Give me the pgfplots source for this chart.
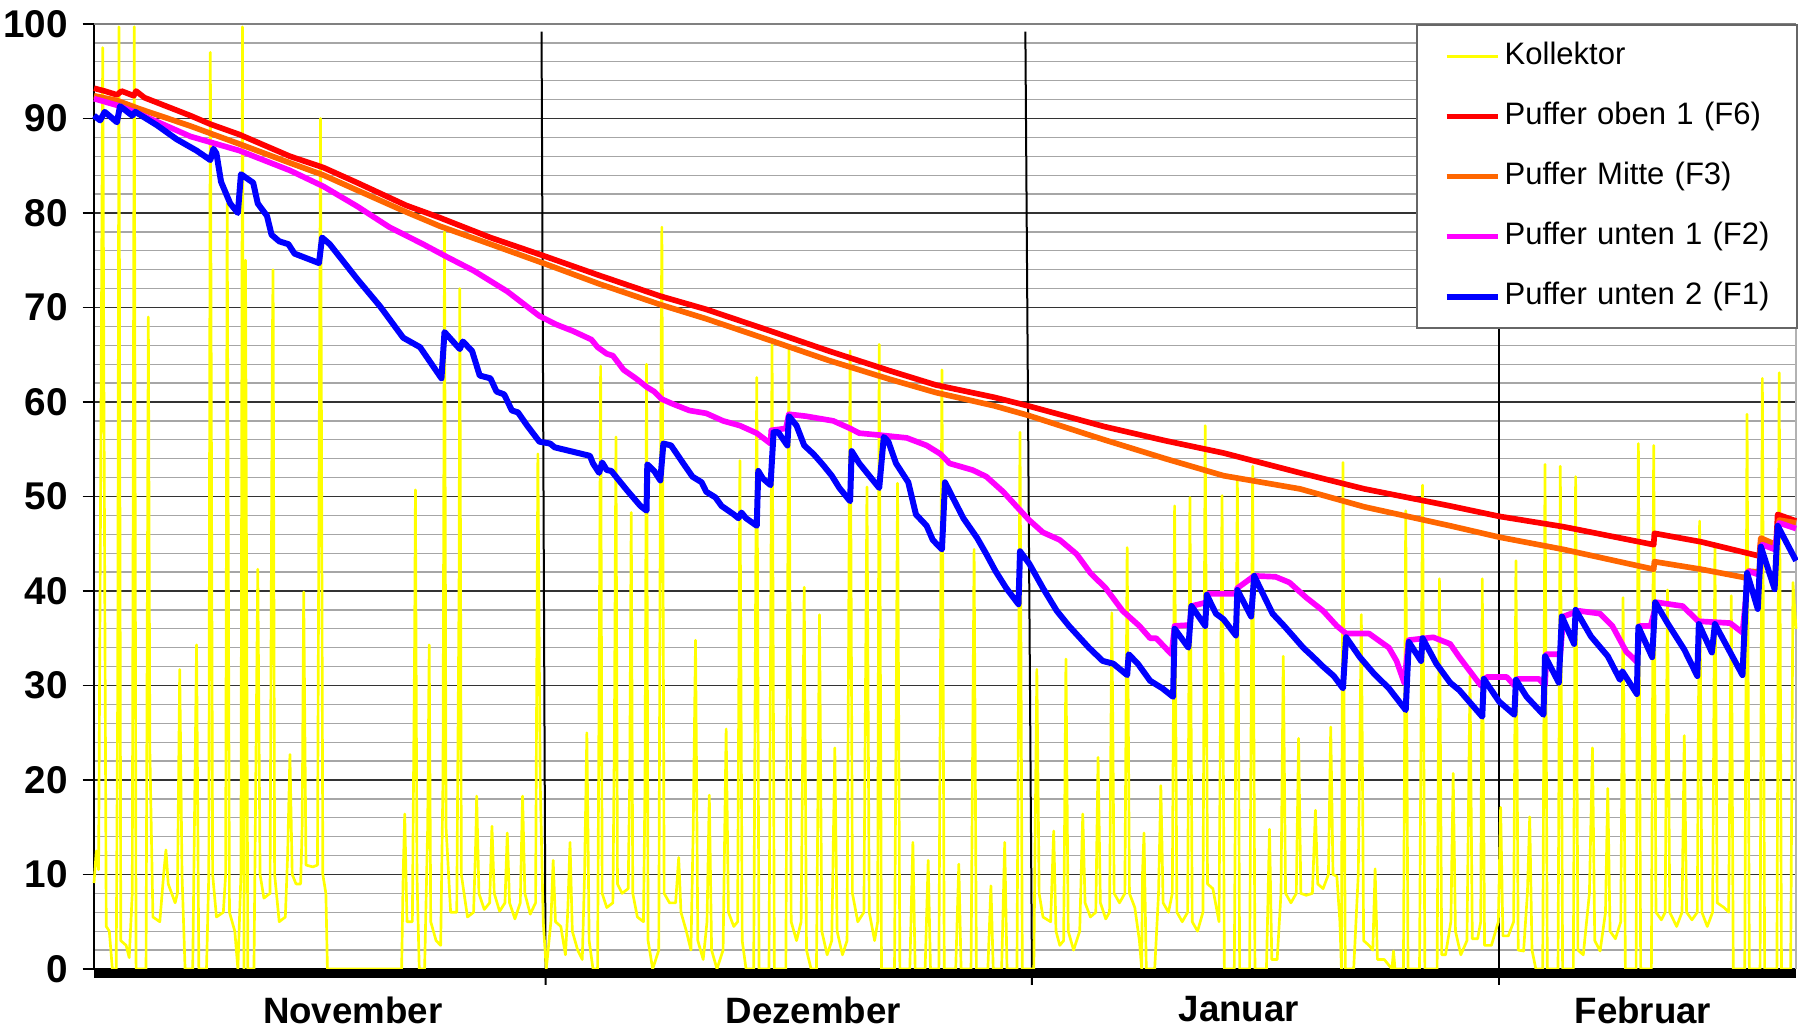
\documentclass[border=0pt]{standalone}
\usepackage{pgfplots}
\pgfplotsset{compat=1.18}
\usepackage{fontspec}
\setmainfont{Liberation Sans}
\definecolor{kol}{RGB}{255,255,0}
\definecolor{fsix}{RGB}{255,0,0}
\definecolor{fthree}{RGB}{255,102,0}
\definecolor{ftwo}{RGB}{255,0,255}
\definecolor{fone}{RGB}{0,0,255}
\begin{document}
\begin{tikzpicture}
\begin{axis}[
  scale only axis, width=510.6pt, height=283.5pt,
  xmin=0, xmax=111.2, ymin=0, ymax=100,
  clip=false,
  axis lines*=left,
  axis line style={black, line width=0.6pt},
  tick align=outside,
  major tick length=3.4pt, minor tick length=0pt,
  xtick={16.9,47.0,74.8,101.2},
  xticklabels={November,Dezember,Januar,Februar},
  x tick style={draw=none},
  ytick={0,10,...,100},
  minor ytick={2,4,6,8,12,14,16,18,22,24,26,28,32,34,36,38,42,44,46,48,52,54,56,58,62,64,66,68,72,74,76,78,82,84,86,88,92,94,96,98},
  y tick style={black, line width=0.5pt},
  ymajorgrids, yminorgrids,
  major grid style={black!80, line width=0.4pt},
  minor grid style={black!35, line width=0.4pt},
  /pgf/number format/assume math mode=true,
  xticklabel style={font=\fontsize{11}{13}\selectfont\bfseries, yshift=-1.3pt},
  yticklabel style={font=\fontsize{11.6}{13}\selectfont\bfseries, xshift=-1.0pt},
  legend style={at={(1.0012,1)}, anchor=north east, draw=black!60, line width=0.6pt, fill=white,
    inner xsep=0pt, inner ysep=5pt, font=\fontsize{9.3}{11}\selectfont, row sep=9pt,
    nodes={inner sep=0pt, text height=7pt, text depth=2pt, text width=87.7pt, align=left}},
  legend cell align=left,
  legend image code/.code={\path[draw=none] (0pt,0pt) -- (26.4pt,0pt); \draw[#1] (9.0pt,0pt) -- (24.3pt,0pt);},
  every axis plot/.append style={line join=round, no markers},
]
\coordinate (sw) at (rel axis cs:0,0);
\coordinate (ne) at (rel axis cs:1,1);
\draw[black!50, line width=0.8pt] (rel axis cs:0,1) -- (rel axis cs:1,1);
\draw[black!30, line width=0.5pt] (rel axis cs:1,0) -- (rel axis cs:1,1);
\draw[black, line width=0.6pt] (axis cs:29.24,99.2) -- (axis cs:29.5,0) -- ([yshift=-4.8pt]axis cs:29.5,0);
\draw[black, line width=0.6pt] (axis cs:60.85,99.2) -- (axis cs:61.28,0) -- ([yshift=-4.8pt]axis cs:61.28,0);
\draw[black, line width=0.6pt] (axis cs:91.8,99.2) -- (axis cs:91.8,0) -- ([yshift=-4.8pt]axis cs:91.8,0);

\addplot[kol, line width=0.8pt] coordinates {
(0,9.1) (0.15,12.5) (0.3,10.5) (0.45,56) (0.57,97.5) (0.65,60) (0.8,4.5) (1.0,4) (1.2,0) (1.45,0) (1.55,30) (1.63,99.7) (1.75,3) (2.1,2.5) (2.3,1.2) (2.5,8) (2.63,99.7) (2.75,0) (3.4,0) (3.55,69) (3.65,23) (3.85,5.5) (4.3,5) (4.55,10) (4.7,12.6) (4.85,9) (5.3,7) (5.45,8) (5.6,31.7) (5.75,10) (5.95,0) (6.45,0) (6.7,34.3) (6.85,0) (7.35,0) (7.5,10) (7.6,97) (7.75,10) (8.0,5.5) (8.45,6) (8.6,10) (8.7,81) (8.85,6) (9.2,4) (9.4,0) (9.6,10) (9.7,99.7) (9.8,0) (9.9,75) (10.05,0) (10.45,0) (10.7,42.3) (10.85,10) (11.1,7.5) (11.5,8) (11.65,66) (11.7,74) (11.8,10) (12.1,5) (12.5,5.5) (12.65,12) (12.8,22.7) (12.95,10) (13.2,9) (13.5,9) (13.6,15) (13.7,39.9) (13.85,11) (14.3,10.8) (14.6,11) (14.8,90) (14.95,10) (15.15,8) (15.25,0) (20.1,0) (20.2,10) (20.3,16.4) (20.45,5) (20.8,5) (20.95,35) (21.0,50.7) (21.1,10) (21.25,0) (21.6,0) (21.8,15) (21.9,34.3) (22.0,5) (22.35,3) (22.65,2.5) (22.8,20) (22.9,78) (23.0,15) (23.3,6) (23.7,6) (23.85,40) (23.9,72) (24.0,10) (24.4,5.5) (24.8,6) (24.95,14) (25.0,18.3) (25.15,8) (25.5,6.3) (25.85,7) (26.0,15.1) (26.15,8) (26.5,6.1) (26.85,7) (27.0,14.4) (27.15,7) (27.5,5.3) (27.85,7) (28.0,18.3) (28.15,8) (28.5,5.8) (28.85,7) (29.0,54.5) (29.15,20) (29.35,5) (29.55,0)
(29.85,5) (30.0,11.5) (30.15,5) (30.5,4.5) (30.8,1.5) (30.95,6) (31.1,13.4) (31.25,4) (31.6,2) (31.9,1) (32.05,10) (32.2,25) (32.35,3) (32.6,0) (32.9,0) (33.0,30) (33.1,63.8) (33.2,8) (33.5,6.5) (33.9,7) (34.0,25) (34.1,56.3) (34.2,9) (34.5,8) (34.9,8.5) (35.0,20) (35.1,48.3) (35.2,8) (35.5,5.5) (35.9,5) (36.0,20) (36.1,64) (36.2,3) (36.5,0) (36.9,2) (37.0,50) (37.1,78.5) (37.25,8) (37.6,7) (38.0,7) (38.2,11.8) (38.35,6) (38.7,4) (39.0,2) (39.15,15) (39.3,34.8) (39.45,3) (39.8,1) (40.05,5) (40.2,18.4) (40.35,2) (40.7,0) (41.1,2) (41.3,25.4) (41.45,6) (41.8,4.5) (42.05,5) (42.2,53.8) (42.35,3) (42.6,0) (43.1,0) (43.3,62.6) (43.45,0) (44.1,0) (44.3,66.1) (44.45,0) (45.2,0) (45.4,65.8) (45.55,5) (45.9,3) (46.2,5) (46.4,40.4) (46.55,2) (46.85,0) (47.2,0) (47.4,37.5) (47.55,4) (47.9,1.5) (48.2,3) (48.4,23.4) (48.55,4) (48.9,1.5) (49.2,3) (49.4,65.4) (49.55,8) (49.9,5) (50.3,6) (50.5,51) (50.65,6) (51.0,3) (51.2,5) (51.3,66.1) (51.45,0) (52.3,0) (52.5,51.4) (52.65,0) (53.3,0) (53.5,13.4) (53.65,0) (54.3,0) (54.5,11.5) (54.65,0) (55.2,0) (55.4,63.4) (55.55,0) (56.3,0) (56.5,11.1) (56.65,0) (57.3,0) (57.5,44.4) (57.65,0) (58.4,0) (58.6,8.8) (58.75,0)
(59.3,0) (59.5,13.4) (59.65,0) (60.3,0) (60.5,56.8) (60.65,0) (61.4,0) (61.6,31.7) (61.75,8) (62.0,5.5) (62.5,5) (62.7,14.6) (62.85,4) (63.1,2.5) (63.35,3) (63.5,32.8) (63.65,4) (64.0,2) (64.4,4) (64.6,16.4) (64.75,7) (65.1,5.5) (65.45,6) (65.6,22.4) (65.75,7) (66.1,5.3) (66.35,6) (66.5,37.7) (66.65,8) (67.0,7) (67.35,8) (67.5,44.6) (67.65,8) (68.0,6.5) (68.3,3) (68.45,0) (68.5,10) (68.6,14.4) (68.75,0) (69.3,0) (69.55,8) (69.7,19.4) (69.85,7) (70.2,6) (70.45,8) (70.6,49) (70.75,6) (71.1,5) (71.45,6) (71.6,49.9) (71.75,5) (72.1,4) (72.45,6) (72.6,57.5) (72.75,9) (73.1,8.5) (73.5,5) (73.7,50.1) (73.85,0) (74.5,0) (74.7,52.1) (74.85,0) (75.5,0) (75.7,53.2) (75.85,0) (76.6,0) (76.8,14.8) (76.95,1) (77.3,1) (77.55,8) (77.7,33.1) (77.85,8) (78.2,7) (78.55,8) (78.7,24.4) (78.85,8) (79.2,7.8) (79.6,8) (79.8,16.8) (79.95,9) (80.3,8.5) (80.65,10) (80.8,25.6) (80.95,10) (81.2,9.8) (81.4,5) (81.5,0) (81.6,53.6) (81.75,0) (82.3,0) (82.6,10) (82.8,37.5) (82.95,3) (83.3,2.5) (83.55,2) (83.7,10.6) (83.85,1) (84.3,1) (84.8,0) (84.9,1.9) (85.0,0) (85.55,0) (85.7,48.5) (85.85,0) (86.6,0) (86.8,51.2) (86.95,0) (87.75,0) (87.9,41.3) (88.05,1.5)
(88.3,1.5) (88.65,5) (88.8,20.7) (88.95,4) (89.3,1.5) (89.7,3) (89.9,31) (90.05,3.2) (90.4,3.2) (90.6,5) (90.7,41.3) (90.85,2.5) (91.3,2.5) (91.75,5) (91.9,17.1) (92.05,3.5) (92.4,3.5) (92.75,5) (92.9,43.2) (93.05,2) (93.4,1.9) (93.65,8) (93.8,16.1) (93.95,2) (94.2,0) (94.65,0) (94.8,53.4) (94.95,0) (95.65,0) (95.8,53.2) (95.95,0) (96.65,0) (96.8,52.1) (96.95,2) (97.3,1.5) (97.7,8) (97.9,23.4) (98.05,3) (98.4,1.9) (98.75,6) (98.9,19.1) (99.05,4) (99.4,3.2) (99.75,5) (99.9,39.3) (100.05,0) (100.75,0) (100.9,55.6) (101.05,0) (101.75,0) (101.9,55.4) (102.05,6) (102.4,5.2) (102.65,6) (102.8,40.1) (102.95,6) (103.4,4.5) (103.75,6) (103.9,24.7) (104.05,6) (104.4,5.2) (104.75,6) (104.9,47.4) (105.05,6) (105.4,4.5) (105.75,6) (105.9,44.8) (106.05,7) (106.5,6.5) (106.8,6) (106.97,39.5) (107.1,0) (107.85,0) (108.0,58.7) (108.15,0) (108.85,0) (109.0,62.5) (109.15,0) (109.95,0) (110.1,63.1) (110.25,0) (110.85,0) (111.0,40.9) (111.2,36)
};
\addlegendentry{Kollektor}

\addplot[fsix, line width=1.7pt] coordinates {
(0,93.2) (0.7,92.9) (1.5,92.5) (1.8,92.9) (2.6,92.4) (2.75,92.9) (3.3,92.2) (6.3,90.3) (7.6,89.4) (9.5,88.3) (12.8,86.0) (15.0,84.8) (17.2,83.2) (20.4,80.8) (22.6,79.5) (25.9,77.4) (29.5,75.4) (33,73.4) (37,71.2) (40,69.8) (44.4,67.4) (48,65.4) (52,63.3) (55,61.8) (58.8,60.5) (61,59.6) (66,57.4) (70,55.9) (73.8,54.6) (78.8,52.5) (83,50.8) (88.6,49.0) (91.8,47.9) (96,46.8) (101.9,44.9) (101.95,46.1) (105,45.2) (108.8,43.7) (108.9,45.4) (109.9,44.9) (110.0,48.1) (111.2,47.4)
};
\addlegendentry{Puffer oben 1 (F6)}

\addplot[fthree, line width=1.7pt] coordinates {
(0,92.4) (1.5,91.9) (3.0,91.0) (6.3,89.2) (9.5,87.3) (12.8,85.3) (15.0,84.0) (17.2,82.4) (20.4,80.1) (22.6,78.6) (25.9,76.7) (29.5,74.6) (33,72.5) (37,70.3) (40,68.8) (44.4,66.4) (48,64.4) (52,62.4) (55,61.0) (58.8,59.6) (61,58.6) (66,56.0) (70,54.0) (73.8,52.2) (78.8,50.8) (83,48.9) (88.6,46.9) (91.8,45.7) (96,44.4) (101.9,42.3) (101.95,43.1) (105,42.3) (107.9,41.4) (108.1,42.1) (108.8,42.0) (108.9,45.6) (109.9,44.9) (110.1,47.5) (111.2,47.2)
};
\addlegendentry{Puffer Mitte (F3)}

\addplot[ftwo, line width=1.7pt] coordinates {
(0,92.1) (1.5,91.4) (2.8,90.6) (6.3,88.1) (9.5,86.6) (12.8,84.5) (15.0,82.8) (17.2,80.7) (19.3,78.5) (21.5,76.7) (23.0,75.4) (24.8,73.9) (27.0,71.7) (29.1,69.1) (30.2,68.2) (31.3,67.5) (32.5,66.6) (32.9,65.8) (33.5,65.1) (33.9,64.9) (34.6,63.4) (35.4,62.5) (36.1,61.6) (36.6,61.1) (37.1,60.3) (37.8,59.8) (38.9,59.1) (40.0,58.8) (41.1,58.0) (42.2,57.5) (43.3,56.7) (44.2,55.6) (44.25,57.0) (45.2,57.2) (45.4,58.7) (46.5,58.5) (48.3,58.0) (49.4,57.2) (50.0,56.7) (51.3,56.5) (53.1,56.2) (54.4,55.4) (55.3,54.5) (55.9,53.5) (57.4,52.8) (58.3,52.1) (59.4,50.5) (60.3,48.9) (61.1,47.5) (62.0,46.2) (63.1,45.4) (64.2,43.9) (65.1,41.9) (66.1,40.3) (67.2,37.9) (68.3,36.3) (69.0,35.0) (69.4,35.0) (70.4,33.3) (70.6,36.3) (71.6,36.4) (71.7,38.4) (72.7,38.8) (72.8,39.7) (74.6,39.7) (74.7,40.3) (75.8,41.6) (77.2,41.5) (78.1,40.9) (79.2,39.3) (80.3,37.9) (81.2,36.3) (81.8,35.5) (83.3,35.5) (84.6,34.0) (85.1,32.6) (85.6,30.3) (85.9,34.8) (87.5,35.1) (88.6,34.4) (89.2,33.0) (90.6,30.0) (91.0,30.9) (92.3,30.9) (92.8,30.0) (93.0,30.7) (94.4,30.7) (94.8,30.0) (94.9,33.3) (95.8,33.3) (96.0,37.3) (97.0,37.9) (98.4,37.6) (99.2,36.3) (100.1,33.6) (100.8,32.5) (101.0,36.3) (101.7,36.3) (102.1,38.8) (103.8,38.4) (104.8,36.8) (106.9,36.6) (107.7,35.6) (108.1,42.1) (108.8,41.7) (109.0,44.9) (109.8,44.4) (110.1,47.2) (111.2,46.6)
};
\addlegendentry{Puffer unten 1 (F2)}

\addplot[fone, line width=1.8pt] coordinates {
(0,90.3) (0.4,89.8) (0.7,90.7) (1.5,89.6) (1.7,91.3) (2.5,90.3) (2.7,90.7) (4.1,89.3) (5.4,87.8) (6.7,86.6) (7.6,85.6) (7.8,86.8) (8.0,86.3) (8.3,83.3) (8.9,81.0) (9.4,80.0) (9.6,84.1) (10.4,83.2) (10.7,81.0) (11.3,79.7) (11.6,77.7) (12.1,77.0) (12.7,76.7) (13.1,75.7) (13.9,75.2) (14.7,74.7) (14.9,77.4) (15.4,76.7) (17.2,73.0) (18.7,70.1) (20.2,66.8) (21.3,65.8) (22.7,62.5) (22.9,67.4) (23.9,65.6) (24.1,66.4) (24.7,65.4) (25.2,62.8) (25.9,62.5) (26.3,61.1) (26.8,60.8) (27.3,59.1) (27.7,58.9) (28.3,57.5) (29.1,55.8) (29.8,55.6) (30.1,55.2) (32.4,54.3) (32.6,53.5) (33.0,52.5) (33.2,53.6) (33.5,52.8) (33.8,52.7) (34.4,51.5) (34.8,50.7) (35.7,49.0) (36.1,48.5) (36.15,53.4) (36.6,52.7) (37.0,51.7) (37.2,55.6) (37.7,55.4) (38.5,53.5) (39.1,52.1) (39.7,51.5) (40.0,50.5) (40.6,49.9) (41.0,49.0) (41.8,48.1) (42.1,47.7) (42.3,48.3) (42.6,47.7) (43.3,46.9) (43.4,52.7) (43.7,51.9) (44.2,51.2) (44.4,56.8) (44.7,56.8) (45.3,55.4) (45.4,58.5) (45.9,57.5) (46.4,55.4) (47.0,54.5) (47.6,53.4) (48.2,52.2) (48.7,50.9) (49.4,49.5) (49.5,54.8) (50.0,53.5) (50.7,52.1) (51.3,50.9) (51.6,56.3) (51.9,55.8) (52.4,53.5) (53.2,51.5) (53.7,48.1) (54.4,46.9) (54.8,45.4) (55.4,44.4) (55.6,51.5) (56.1,49.9) (56.8,47.7) (57.7,45.6) (58.3,43.9) (58.9,42.1) (59.6,40.3) (60.4,38.6) (60.5,44.2) (61.1,42.9) (62.0,40.3) (62.9,37.9) (63.7,36.3) (65.0,34.0) (65.9,32.6) (66.6,32.3) (67.5,31.1) (67.6,33.3) (68.2,32.3) (69.0,30.5) (69.8,29.7) (70.5,28.8) (70.6,36.0) (71.5,34.0) (71.7,38.4) (72.6,36.3) (72.7,39.6) (73.3,37.6) (73.8,37.0) (74.6,35.3) (74.7,40.1) (75.6,37.3) (75.8,41.6) (76.4,39.6) (77.0,37.6) (77.7,36.4) (78.3,35.3) (79.0,34.0) (79.6,33.1) (80.3,32.0) (81.0,31.0) (81.6,29.7) (81.8,35.1) (82.7,33.0) (83.6,31.3) (84.6,29.7) (85.7,27.4) (85.9,34.6) (86.7,32.6) (86.8,35.0) (87.7,32.3) (88.6,30.3) (89.2,29.5) (90.7,26.7) (90.8,30.7) (91.8,28.3) (92.8,26.9) (92.9,30.6) (93.6,28.8) (94.7,26.9) (94.8,33.1) (95.7,30.3) (95.9,37.3) (96.7,34.4) (96.8,38.0) (97.8,35.2) (98.9,33.1) (99.7,30.6) (99.85,31.5) (100.8,29.1) (100.9,36.2) (101.8,33.0) (102.0,38.8) (102.8,36.6) (103.9,33.8) (104.75,31.0) (104.85,36.5) (105.7,33.5) (105.9,36.5) (106.8,33.8) (107.7,31.1) (108.0,41.9) (108.7,38.1) (108.9,44.7) (109.8,40.2) (110.0,46.9) (111.2,43.2)
};
\addlegendentry{Puffer unten 2 (F1)}

\fill[black] (axis cs:0,0) rectangle ([yshift=-2.7pt]axis cs:111.2,0);
\end{axis}
\pgfresetboundingbox
\path ([xshift=-28.2pt,yshift=-18.6pt]sw) rectangle ([xshift=0.6pt,yshift=7.2pt]ne);
\end{tikzpicture}
\end{document}
